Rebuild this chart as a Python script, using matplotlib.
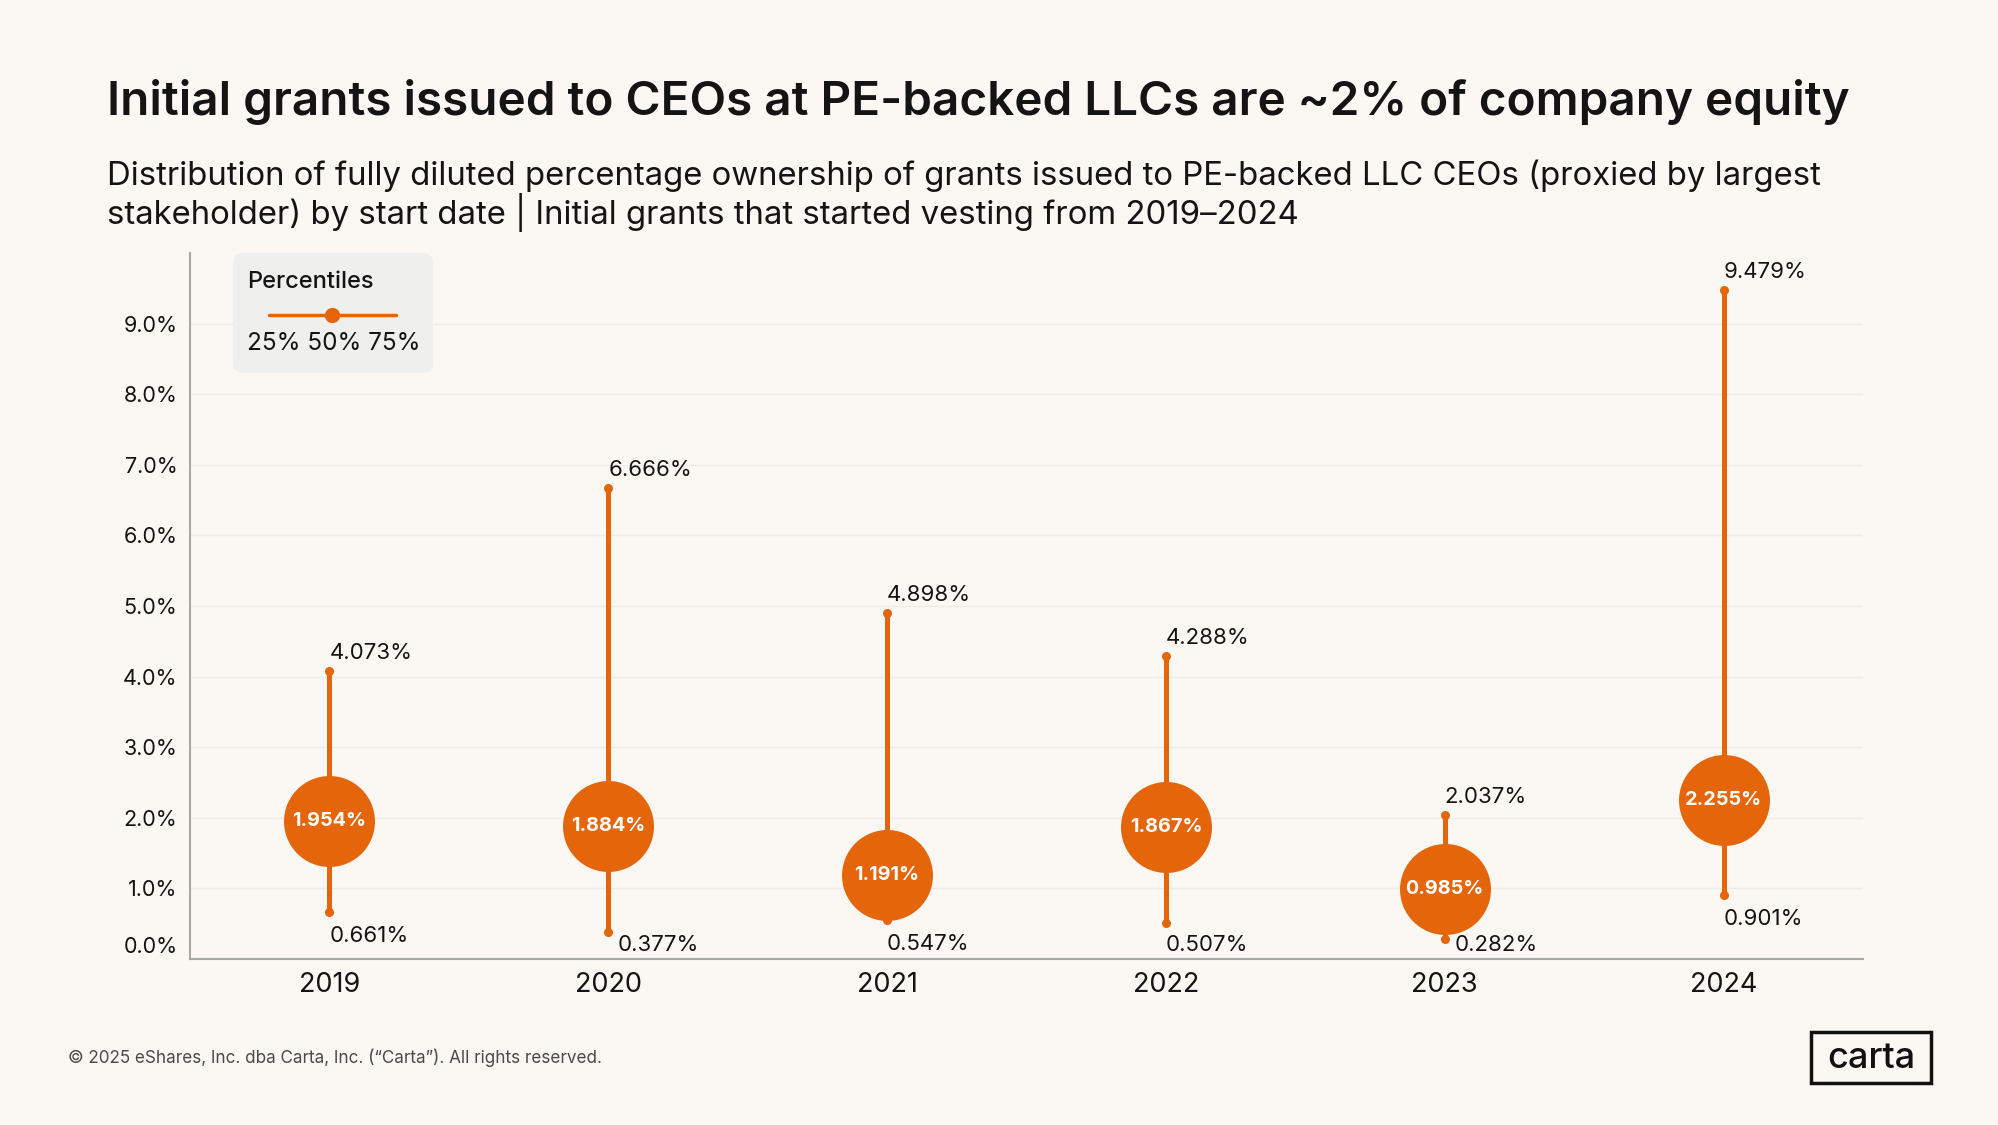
#!/usr/bin/env python3
"""Percentile ranges of initial CEO grants at PE-backed LLCs, 2019-2024."""

import matplotlib

matplotlib.use("Agg")
import matplotlib.pyplot as plt
import matplotlib.transforms as mtransforms
from matplotlib.patches import FancyBboxPatch, Rectangle

# data
years = ["2019", "2020", "2021", "2022", "2023", "2024"]
p25 = [0.661, 0.377, 0.547, 0.507, 0.282, 0.901]
p50 = [1.954, 1.884, 1.191, 1.867, 0.985, 2.255]
p75 = [4.073, 6.666, 4.898, 4.288, 2.037, 9.479]
y_ticks = [0, 1, 2, 3, 4, 5, 6, 7, 8, 9]
legend_labels = ["25%", "50%", "75%"]

TITLE = "Initial grants issued to CEOs at PE-backed LLCs are ~2% of company equity"
SUBTITLE = [
    "Distribution of fully diluted percentage ownership of grants issued to PE-backed LLC CEOs (proxied by largest",
    "stakeholder) by start date | Initial grants that started vesting from 2019\u20132024",
]
FOOTER = "\u00a9 2025 eShares, Inc. dba Carta, Inc. (\u201cCarta\u201d). All rights reserved."

ORANGE = "#E5650A"
BG = "#FBF8F3"
INK = "#141414"
FONT = ["Inter", "DejaVu Sans"]
W, H = 1999, 1125

plt.rcParams["font.family"] = FONT

fig = plt.figure(figsize=(W / 100, H / 100), dpi=100, facecolor=BG)

# main chart axes, placed in pixel terms
left, right, top, bottom = 190, 1863, 253, 959
ax = fig.add_axes([left / W, 1 - bottom / H, (right - left) / W, (bottom - top) / H])
ax.set_facecolor(BG)
ax.set_xlim(-0.5, 5.5)
ax.set_ylim(0, 10)

for y in y_ticks[1:]:
    ax.axhline(y, color="#EFEBE5", lw=1.0, zorder=0)

xs = list(range(len(years)))
ax.vlines(xs, p25, p75, color=ORANGE, lw=3.6, zorder=2)
ax.plot(xs, p25, "o", ms=6.5, color=ORANGE, mec="none", zorder=3)
ax.plot(xs, p75, "o", ms=6.5, color=ORANGE, mec="none", zorder=3)
ax.plot(xs, p50, "o", ms=65.5, color=ORANGE, mec="none", zorder=4)

for x, lo, mid, hi in zip(xs, p25, p50, p75):
    ax.annotate(f"{hi:.3f}%", (x, hi), xytext=(0, 13), textcoords="offset points",
                ha="left", va="center", fontsize=16, color=INK)
    ax.text(x, mid, f"{mid:.3f}%", ha="center", va="center", fontsize=14.3,
            fontweight="bold", color="white", zorder=5)
    # lower labels hang below the dot but never drop under the floor
    label_y = max(lo - 0.335, 0.205)
    nudge = 7 if lo - label_y < 0.25 else 0
    ax.annotate(f"{lo:.3f}%", (x, label_y), xytext=(nudge, 0), textcoords="offset points",
                ha="left", va="center", fontsize=16, color=INK)

ax.set_xticks(xs, years)
ax.set_yticks(y_ticks, [f"{v:.1f}%" for v in y_ticks])
ax.tick_params(axis="x", length=0, pad=9, labelsize=19.5, labelcolor=INK)
ax.tick_params(axis="y", length=0, pad=9, labelsize=15.5, labelcolor=INK)
# the zero label sits a little above the baseline
zero_label = ax.get_yticklabels()[0]
zero_label.set_transform(zero_label.get_transform()
                         + mtransforms.ScaledTranslation(0, 10 / 72, fig.dpi_scale_trans))
for side in ("top", "right"):
    ax.spines[side].set_visible(False)
for side in ("left", "bottom"):
    ax.spines[side].set_color("#A8A8A8")
    ax.spines[side].set_linewidth(1.5)

# overlay in pixel coordinates for titles, legend and footer
over = fig.add_axes([0, 0, 1, 1], zorder=10)
over.set_xlim(0, W)
over.set_ylim(H, 0)
over.axis("off")

over.text(107, 115, TITLE, fontsize=34.3, fontweight="semibold", color=INK, va="baseline")
over.text(107, 185, SUBTITLE[0], fontsize=23.7, color=INK, va="baseline")
over.text(107, 224, SUBTITLE[1], fontsize=23.7, color=INK, va="baseline")

box = FancyBboxPatch((233, 253), 200, 120, boxstyle="round,pad=0,rounding_size=10",
                     fc="#EFEFEE", ec="none")
over.add_patch(box)
over.text(247, 282, "Percentiles", fontsize=17, fontweight="medium", color=INK, va="center")
over.plot([269, 396], [315, 315], color=ORANGE, lw=2.5, solid_capstyle="round")
over.plot([332], [315], "o", ms=11, color=ORANGE, mec="none")
over.text(334, 344, " ".join(legend_labels), fontsize=17.5, color=INK, ha="center", va="center")

over.text(68, 1058, FOOTER, fontsize=12.3, color="#4A4A4A", va="center")
over.add_patch(Rectangle((1811, 1032), 120, 51, fill=False, ec="#111111", lw=2.5))
over.text(1871, 1058, "carta", fontsize=26, fontweight="medium", color="#111111",
          ha="center", va="center")

fig.savefig("out.png", dpi=100, facecolor=BG)
